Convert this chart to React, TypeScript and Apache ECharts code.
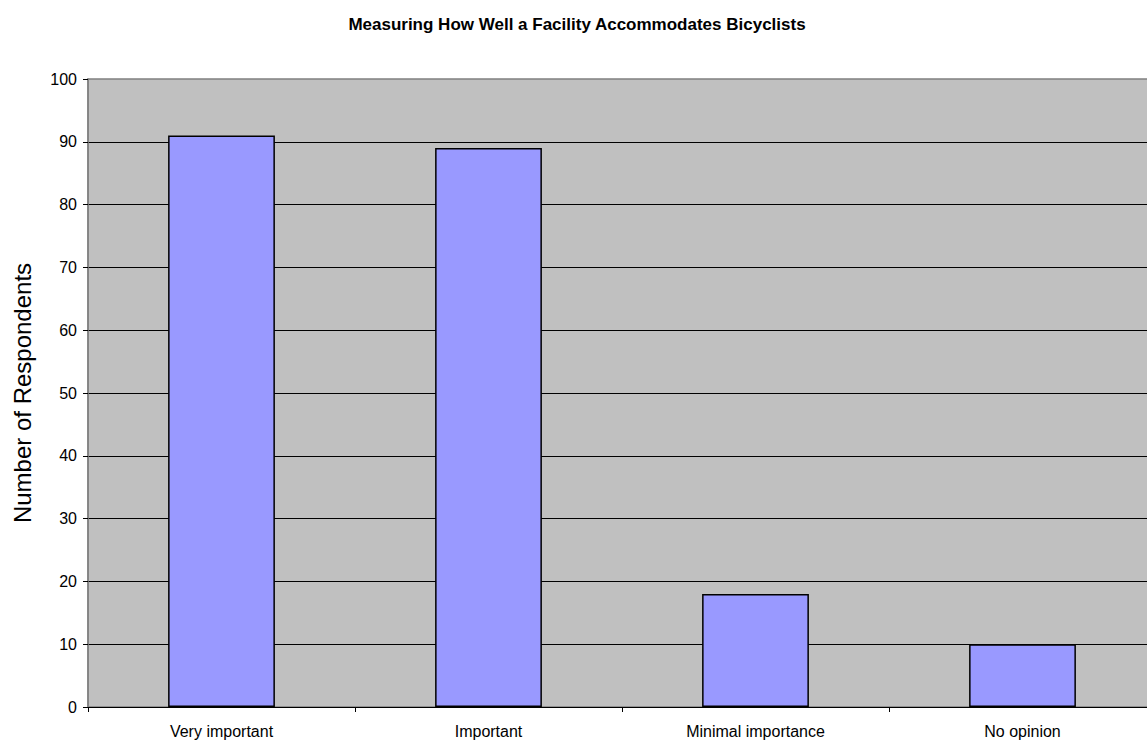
import React, { useEffect, useRef } from "react";
import * as echarts from "echarts";

const titleText = "Measuring How Well a Facility Accommodates Bicyclists";
const yAxisName = "Number of Respondents";
const categories = ["Very important", "Important", "Minimal importance", "No opinion"];
const respondents = [91, 89, 18, 10];

export default function App() {
  const ref = useRef<HTMLDivElement>(null);
  useEffect(() => {
    if (!ref.current) return;
    const chart = echarts.init(ref.current, null, { renderer: "svg" });
    const font = "Liberation Sans, Arial, sans-serif";
    chart.setOption({
      animation: false,
      backgroundColor: "#ffffff",
      textStyle: { fontFamily: font },
      title: {
        text: titleText,
        left: 572,
        textAlign: "center",
        top: 11,
        textStyle: { fontSize: 17, fontWeight: "bold", color: "#000", fontFamily: font },
      },
      grid: {
        left: 88,
        top: 79,
        width: 1068,
        height: 628,
        show: true,
        backgroundColor: "#c0c0c0",
        borderColor: "#808080",
        borderWidth: 1.5,
      },
      xAxis: {
        type: "category",
        data: categories,
        axisLine: { show: true, lineStyle: { color: "#000", width: 1 } },
        axisTick: { show: true, alignWithLabel: false, length: 5, lineStyle: { color: "#000" } },
        axisLabel: { color: "#000", fontSize: 16, margin: 16, fontFamily: font },
        splitLine: { show: false },
      },
      yAxis: {
        type: "value",
        min: 0,
        max: 100,
        interval: 10,
        name: yAxisName,
        nameLocation: "middle",
        nameGap: 54,
        nameTextStyle: { fontSize: 24, color: "#000", fontFamily: font },
        axisLine: { show: true, lineStyle: { color: "#808080", width: 1.5 } },
        axisTick: { show: true, length: 5, lineStyle: { color: "#000" } },
        axisLabel: { color: "#000", fontSize: 16, margin: 11, fontFamily: font },
        splitLine: { show: true, showMaxLine: false, lineStyle: { color: "#000", width: 1 } },
      },
      series: [
        {
          type: "bar",
          data: respondents,
          barWidth: "40%",
          itemStyle: { color: "#9999ff", borderColor: "#000", borderWidth: 1.5 },
        },
      ],
    });
    return () => chart.dispose();
  }, []);
  return (
    <div
      ref={ref}
      style={{ position: "fixed", left: 0, top: 0, width: 1160, height: 747 }}
    />
  );
}
